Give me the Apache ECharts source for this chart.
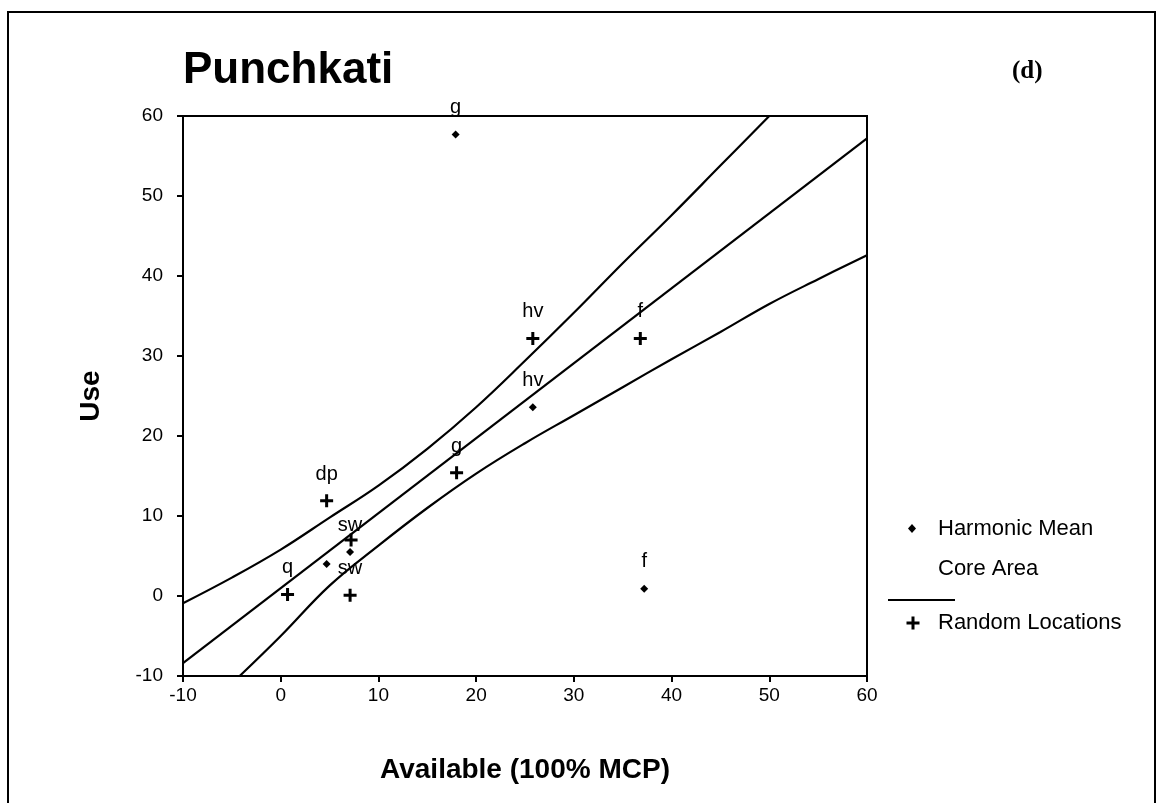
<!DOCTYPE html>
<html>
<head>
<meta charset="utf-8">
<title>Punchkati</title>
<script src="https://cdn.jsdelivr.net/npm/echarts@6/dist/echarts.min.js"></script>
<style>
  html, body { margin: 0; padding: 0; background: #ffffff; }
  #chart { width: 1157px; height: 803px; }
</style>
</head>
<body>
<div id="chart"></div>
<script>
// Harmonic Mean core-area points (available %, use %)
const hmX = [17.9, 25.8, 37.2, 7.1, 4.7];
const hmY = [57.7, 23.6, 0.9, 5.5, 4.0];
const hmLabels = ['g', 'hv', 'f', 'sw', ''];

// Random Locations points
const rlX = [25.8, 36.8, 4.7, 7.2, 7.1, 0.7, 18.0];
const rlY = [32.2, 32.2, 11.9, 7.0, 0.1, 0.2, 15.4];
const rlLabels = ['hv', 'f', 'dp', '', 'sw', 'q', 'g'];

// Regression line and its upper / lower confidence curves
const fitX = [-10, 60];
const fitY = [-8.4, 57.2];
const upperX = [-10, -5, 0, 5, 10, 15, 20, 25, 30, 35, 40, 45, 50];
const upperY = [-0.9, 2.3, 5.8, 9.8, 13.8, 18.4, 23.6, 29.4, 35.4, 41.6, 47.6, 53.8, 60.0];
const lowerX = [-4.2, 0, 5, 10, 15, 20, 25, 30, 35, 40, 45, 50, 55, 60];
const lowerY = [-10, -5.0, 1.3, 6.3, 11.0, 15.3, 19.1, 22.6, 26.1, 29.6, 33.0, 36.5, 39.6, 42.6];

// Axis ticks
const axisMin = -10;
const axisMax = 60;
const axisStep = 10;

const FONT = '"Liberation Sans", Arial, Helvetica, sans-serif';
const INK = '#000000';
const PLUS = 'path://M5,0 L8,0 L8,5 L13,5 L13,8 L8,8 L8,13 L5,13 L5,8 L0,8 L0,5 L5,5 Z';

const zip = (xs, ys) => xs.map((x, i) => [x, ys[i]]);
const labelled = (xs, ys, names) => xs.map((x, i) => ({ value: [x, ys[i]], name: names[i] }));

const pointLabel = (dist) => ({
  show: true,
  position: 'top',
  distance: dist,
  formatter: p => p.name,
  fontFamily: FONT,
  fontSize: 20,
  color: INK,
  opacity: 1
});

const lineSeries = (data) => ({
  type: 'line',
  data: data,
  showSymbol: false,
  symbol: 'none',
  smooth: 0.4,
  clip: true,
  silent: true,
  lineStyle: { color: INK, width: 2.2 },
  z: 2
});

const chart = echarts.init(document.getElementById('chart'), null, { renderer: 'canvas' });

chart.setOption({
  backgroundColor: '#ffffff',
  animation: false,
  title: {
    text: 'Punchkati',
    left: 178,
    top: 44,
    textStyle: { fontFamily: FONT, fontSize: 44, fontWeight: 'bold', color: INK }
  },
  grid: {
    left: 183, top: 116, width: 684, height: 560,
    show: true, borderColor: INK, borderWidth: 2, backgroundColor: 'transparent'
  },
  xAxis: {
    type: 'value',
    min: axisMin, max: axisMax, interval: axisStep,
    name: 'Available (100% MCP)',
    nameLocation: 'middle',
    nameGap: 80,
    nameTextStyle: { fontFamily: FONT, fontSize: 28, fontWeight: 'bold', color: INK },
    axisLine: { onZero: false, lineStyle: { color: INK, width: 2 } },
    axisTick: { show: true, inside: false, length: 6, lineStyle: { color: INK, width: 2 } },
    axisLabel: { fontFamily: FONT, fontSize: 19, color: INK, margin: 10 },
    splitLine: { show: false }
  },
  yAxis: {
    type: 'value',
    min: axisMin, max: axisMax, interval: axisStep,
    name: 'Use',
    nameLocation: 'middle',
    nameGap: 78,
    nameTextStyle: { fontFamily: FONT, fontSize: 28, fontWeight: 'bold', color: INK },
    axisLine: { onZero: false, lineStyle: { color: INK, width: 2 } },
    axisTick: { show: true, inside: false, length: 6, lineStyle: { color: INK, width: 2 } },
    axisLabel: { fontFamily: FONT, fontSize: 19, color: INK, margin: 20 },
    splitLine: { show: false }
  },
  series: [
    lineSeries(zip(fitX, fitY)),
    lineSeries(zip(upperX, upperY)),
    lineSeries(zip(lowerX, lowerY)),
    {
      name: 'Harmonic Mean',
      type: 'scatter',
      data: labelled(hmX, hmY, hmLabels),
      symbol: 'diamond',
      symbolSize: 8,
      itemStyle: { color: INK, opacity: 1 },
      label: pointLabel(13),
      z: 3
    },
    {
      name: 'Random Locations',
      type: 'scatter',
      data: labelled(rlX, rlY, rlLabels),
      symbol: PLUS,
      symbolSize: 13,
      itemStyle: { color: INK, opacity: 1 },
      label: pointLabel(10),
      z: 3
    }
  ],
  graphic: [
    // outer frame
    {
      type: 'rect',
      shape: { x: 8, y: 12, width: 1147, height: 800 },
      style: { fill: 'none', stroke: INK, lineWidth: 2 },
      silent: true
    },
    {
      type: 'text',
      x: 1012, y: 59,
      style: { text: '(d)', font: 'bold 25px "Liberation Serif", "Times New Roman", serif', fill: INK }
    },
    // key
    {
      type: 'polygon',
      shape: { points: [[912, 524], [916, 528.5], [912, 533], [908, 528.5]] },
      style: { fill: INK }
    },
    {
      type: 'text', x: 938, y: 529,
      style: { text: 'Harmonic Mean', font: '22px ' + FONT, fill: INK, verticalAlign: 'middle' }
    },
    {
      type: 'text', x: 938, y: 569,
      style: { text: 'Core Area', font: '22px ' + FONT, fill: INK, verticalAlign: 'middle' }
    },
    {
      type: 'line',
      shape: { x1: 888, y1: 600, x2: 955, y2: 600 },
      style: { stroke: INK, lineWidth: 2 }
    },
    {
      type: 'polygon',
      shape: { points: [[911.5, 616.5], [914.5, 616.5], [914.5, 621.5], [919.5, 621.5], [919.5, 624.5], [914.5, 624.5], [914.5, 629.5], [911.5, 629.5], [911.5, 624.5], [906.5, 624.5], [906.5, 621.5], [911.5, 621.5]] },
      style: { fill: INK }
    },
    {
      type: 'text', x: 938, y: 623,
      style: { text: 'Random Locations', font: '22px ' + FONT, fill: INK, verticalAlign: 'middle' }
    }
  ]
});
</script>
</body>
</html>
